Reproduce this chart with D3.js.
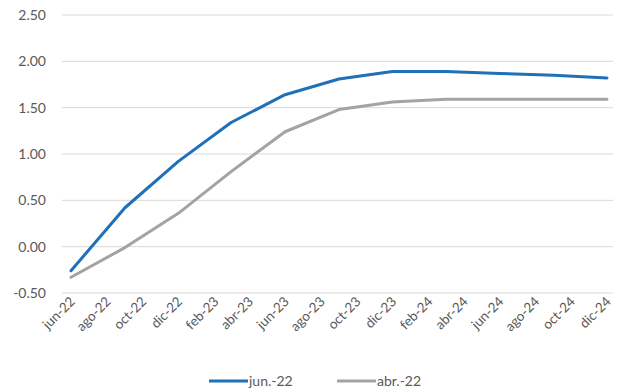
<!DOCTYPE html>
<html>
<head>
<meta charset="utf-8">
<script src="https://cdn.jsdelivr.net/npm/d3@7"></script>
<style>
  html, body { margin: 0; padding: 0; background: #fff; }
  svg text { font-family: Lato, "Open Sans", sans-serif; fill: #595959; }
</style>
</head>
<body>
<svg id="chart" width="620" height="392"></svg>
<script>
// Quarterly observation dates (year-month)
const dates = ["2022-06", "2022-09", "2022-12", "2023-03", "2023-06", "2023-09",
               "2023-12", "2024-03", "2024-06", "2024-09", "2024-12"];
// Projection made in June 2022
const serieJun22 = [-0.26, 0.42, 0.92, 1.34, 1.64, 1.81, 1.89, 1.89, 1.87, 1.85, 1.82];
// Projection made in April 2022
const serieAbr22 = [-0.33, -0.01, 0.36, 0.81, 1.24, 1.48, 1.56, 1.59, 1.59, 1.59, 1.59];
const seriesNames = ["jun.-22", "abr.-22"];
const yTicks = [-0.5, 0, 0.5, 1.0, 1.5, 2.0, 2.5];
const monthNames = ["ene", "feb", "mar", "abr", "may", "jun", "jul", "ago", "sep", "oct", "nov", "dic"];

const parse = d3.timeParse("%Y-%m");
const svg = d3.select("#chart");
const FONT = "Lato, 'Open Sans', sans-serif";

const x = d3.scaleTime()
  .domain([parse("2022-06"), parse("2024-12")])
  .range([71, 607]);
const y = d3.scaleLinear().domain([-0.5, 2.5]).range([293, 15]);

// Horizontal gridlines
svg.append("g").selectAll("line").data(yTicks).join("line")
  .attr("x1", 62).attr("x2", 613)
  .attr("y1", d => y(d)).attr("y2", d => y(d))
  .attr("stroke", "#d9d9d9").attr("stroke-width", 1);

// Y axis labels (plain hyphen for negatives)
const yFmt = d => d3.format(".2f")(d).replace("\u2212", "-");
const yAxis = d3.axisLeft(y).tickValues(yTicks).tickFormat(yFmt).tickSize(0).tickPadding(0);
svg.append("g").attr("transform", "translate(46,0)").call(yAxis)
  .call(g => g.select(".domain").remove())
  .call(g => g.selectAll("text").attr("font-size", 14).attr("fill", "#595959")
    .style("font-family", FONT));

// X axis: bimonthly labels, rotated
const xTicks = d3.timeMonth.range(parse("2022-06"), d3.timeMonth.offset(parse("2024-12"), 1), 2);
const fmt = d => monthNames[d.getMonth()] + "-" + String(d.getFullYear()).slice(2);
const xAxis = d3.axisBottom(x).tickValues(xTicks).tickFormat(fmt).tickSize(0).tickPadding(0);
svg.append("g").attr("transform", "translate(0,299)").call(xAxis)
  .call(g => g.select(".domain").remove())
  .call(g => g.selectAll("text")
    .attr("font-size", 13.5).attr("fill", "#595959")
    .style("font-family", FONT)
    .attr("text-anchor", "end").attr("dy", "0.35em").attr("dx", 0)
    .attr("transform", "translate(1,0) rotate(-45)"));

// Lines
const colors = ["#1f70b8", "#a3a3a3"];
const seriesData = [serieJun22, serieAbr22];
const line = d3.line().x(d => x(d.date)).y(d => y(d.value));
seriesData.forEach((vals, i) => {
  const pts = dates.map((d, j) => ({ date: parse(d), value: vals[j] }));
  svg.append("path").datum(pts)
    .attr("fill", "none").attr("stroke", colors[i]).attr("stroke-width", 3)
    .attr("stroke-linejoin", "round").attr("stroke-linecap", "round")
    .attr("d", line);
});

// Legend
const legendX = [209, 337];
seriesNames.forEach((name, i) => {
  const g = svg.append("g").attr("transform", `translate(${legendX[i]},381)`);
  g.append("line").attr("x1", 0).attr("x2", 39).attr("y1", 0).attr("y2", 0)
    .attr("stroke", colors[i]).attr("stroke-width", 3);
  g.append("text").attr("x", 40).attr("y", 0).attr("dy", "0.35em")
    .attr("font-size", 14).style("font-family", FONT).text(name);
});
</script>
</body>
</html>
